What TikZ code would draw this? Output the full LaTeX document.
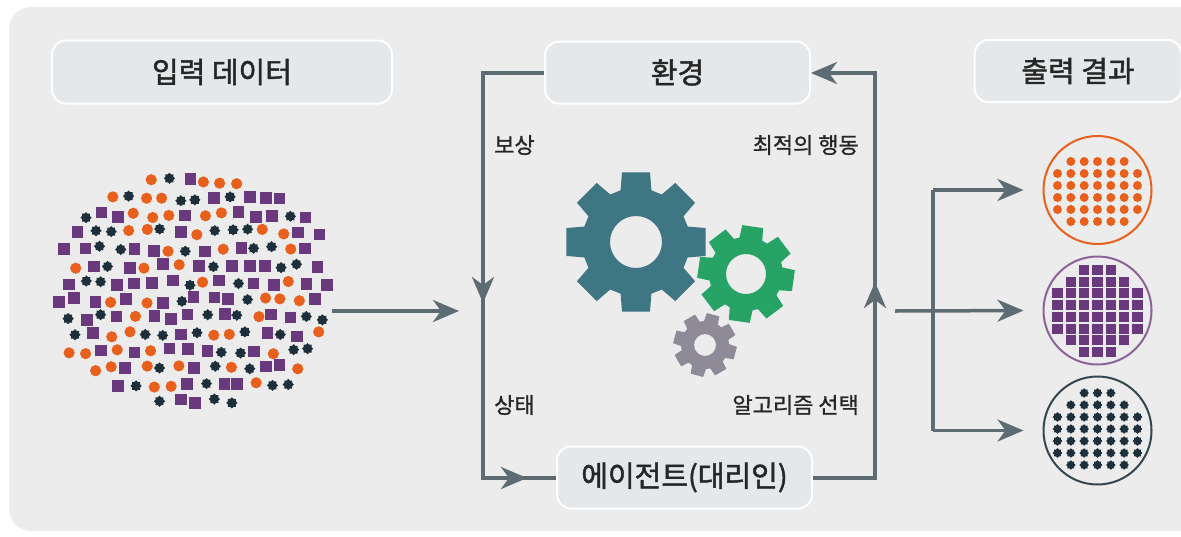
\documentclass[tikz,border=0pt]{standalone}
\usepackage{fontspec}
\setmainfont{Noto Sans CJK KR}
\newfontfamily\krhead{Noto Sans CJK KR}[FakeBold=1.6]
\newfontfamily\krlbl{Noto Sans CJK KR}[FakeBold=1.0]
\usetikzlibrary{arrows.meta}
\definecolor{panel}{HTML}{ECECEC}
\definecolor{hdrfill}{HTML}{E4E8EA}
\definecolor{linec}{HTML}{5D6B73}
\definecolor{orangec}{HTML}{E8601C}
\definecolor{purplec}{HTML}{6B3A7E}
\definecolor{purplering}{HTML}{8C6398}
\definecolor{navyc}{HTML}{1C2F3B}
\definecolor{navyring}{HTML}{34464E}
\definecolor{tealc}{HTML}{3F7684}
\definecolor{greenc}{HTML}{28A366}
\definecolor{greyc}{HTML}{8E8A98}
\definecolor{textc}{HTML}{262626}
\newcommand\rosette[3]{\fill[navyc,shift={(#1,#2)}] (0:#3) \foreach \k in {1,...,15}{ -- ({\k*22.5}:{ifthenelse(mod(\k,2)==0,#3,0.76*#3)}) } -- cycle;}
\newcommand\gear[9]{\fill[#9,even odd rule,shift={(#1,#2)}] ({#8+asin(1.1*#6/#5)}:#5)
  \foreach \k in {1,...,#3}{ -- ({#8+\k*360/#3-asin(1.1*#6/#5)}:#5) -- ({#8+\k*360/#3-asin(#6/#4)}:#4) -- ({#8+\k*360/#3+asin(#6/#4)}:#4) -- ({#8+\k*360/#3+asin(1.1*#6/#5)}:#5)} -- cycle (0,0) circle (#7pt);}
\tikzset{
  hdr/.style={draw=white, line width=2pt, fill=hdrfill, rounded corners=14pt, inner sep=0pt, text=textc, font=\krhead\fontsize{29}{34}\selectfont},
  lbl/.style={inner sep=0pt, text=textc, font=\krlbl\fontsize{22}{26}\selectfont},
  flow/.style={draw=linec, line width=3.5pt},
  arr/.style={flow, -{Stealth[length=26pt,width=22pt,inset=8pt]}},
  ring/.style={circle, inner sep=0pt, line width=2pt, minimum size=108pt}
}
\begin{document}
\begin{tikzpicture}[x=1pt,y=-1pt]
\useasboundingbox (0,0) rectangle (1181,536);
\clip (0,0) rectangle (1181,536);
\fill[panel, rounded corners=22pt] (9,7) rectangle (1210,531);
% headers
\node[hdr, minimum width=340pt, minimum height=63pt] (inp) at (222,72) {입력 데이터};
\node[hdr, minimum width=265pt, minimum height=62pt] (env) at (677.5,72.5) {환경};
\node[hdr, minimum width=207pt, minimum height=62pt] (out) at (1078,71) {출력 결과};
\node[hdr, minimum width=255pt, minimum height=62pt] (agent) at (684.5,477.5) {에이전트(대리인)};
% labels
\node[lbl, anchor=west] (rew) at (494,145) {보상};
\node[lbl, anchor=east] (opt) at (859,145) {최적의 행동};
\node[lbl, anchor=west] (state) at (494,405) {상태};
\node[lbl, anchor=east] (algo) at (859,405) {알고리즘 선택};
% loop
\coordinate (LT) at (483,73);
\coordinate (LB) at (483,478);
\coordinate (RB) at (875,478);
\coordinate (RT) at (875,73);
\coordinate (Ldown) at (483,303);
\coordinate (Rup) at (875,282);
\coordinate (Bmid) at (527,478);
\draw[flow] (env.west |- LT) -- (LT) -- (LB) -- (agent.west |- LB);
\draw[arr] (LT) -- (Ldown);
\draw[arr] (LB) -- (Bmid);
\draw[flow] (agent.east |- RB) -- (RB) -- (Rup);
\draw[arr] (RB) -- (Rup);
\draw[arr] (Rup) -- (RT) -- (env.east |- RT);
% input arrow
\coordinate (cloudE) at (332,311);
\coordinate (inTip) at (459,311);
\draw[arr] (cloudE) -- (inTip);
% scatter cloud
\pgfmathsetseed{4242}
\foreach \j in {0,...,13}{
 \foreach \i in {0,...,17}{
  \pgfmathsetmacro\px{50+\i*17.2+mod(\j,2)*8.6+rand*3}
  \pgfmathsetmacro\py{181+\j*17+rand*3}
  \pgfmathtruncatemacro\ins{abs((\px-194)/138)^2.5+abs((\py-291)/114)^2.5<1}
  \pgfmathrandominteger\kind{1}{10}
  \ifnum\ins=1
    \ifnum\kind<4 \fill[orangec] (\px,\py) circle (5.6pt);
    \else\ifnum\kind<8 \fill[purplec] ({\px-5.8},{\py-5.8}) rectangle ++(11.6,11.6);
    \else \rosette{\px}{\py}{5.6}\fi\fi
  \fi
 }}
% gears
\gear{636}{242}{8}{71}{54}{14}{26}{0}{tealc}
\gear{705}{345}{8}{32}{24}{6.5}{11}{15}{greyc}
\gear{746}{274}{8}{49}{37}{10.5}{20}{8}{greenc}
% outputs
\node[ring, draw=orangec] (o1) at (1097.5,190) {};
\node[ring, draw=purplering] (o2) at (1097.5,310.5) {};
\node[ring, draw=navyring] (o3) at (1097.5,430.5) {};
\foreach \y/\a/\b in {161.5/1/5, 173.5/0/6, 185.5/0/6, 197.5/0/6, 209.5/0/6, 221.5/1/5}
  \foreach \i in {\a,...,\b} \fill[orangec] ({1057.5+13.33*\i},\y) circle (4.5pt);
\foreach \y/\a/\b in {270/2/4, 281.7/1/5, 293.4/0/6, 305.1/0/6, 316.8/0/6, 328.5/0/6, 340.2/1/5, 351.9/2/4}
  \foreach \i in {\a,...,\b} \fill[purplec] ({1057.5+13.33*\i-5.3},{\y-5}) rectangle ++(10.6,10);
\foreach \y/\a/\b in {393/2/4, 405/1/5, 417/0/6, 429/0/6, 441/0/6, 453/0/6, 465/1/5}
  \foreach \i in {\a,...,\b} {\rosette{1057.5+13.33*\i}{\y}{4.8}}
\coordinate (oStart) at (895,311);
\coordinate (oTop) at (933,190);
\coordinate (oBot) at (933,430.5);
\draw[flow] (oTop) -- (oBot);
\draw[arr, shorten >=19pt] (oStart) -- (o2.west);
\draw[arr, shorten >=19pt] (oTop) -- (o1.west);
\draw[arr, shorten >=19pt] (oBot) -- (o3.west);
\end{tikzpicture}
\end{document}
